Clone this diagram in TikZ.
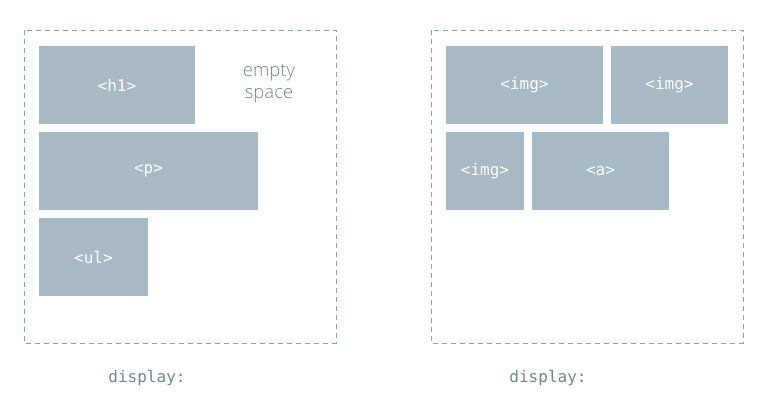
\documentclass[tikz,border=0pt]{standalone}
\usepackage{fontspec}
\setmainfont{Open Sans}
\newfontfamily\lightfont{Open Sans Light}
\setmonofont{DejaVu Sans Mono}
\definecolor{boxfill}{HTML}{A7B9C4}
\definecolor{framec}{HTML}{8AA3B3}
\definecolor{labelc}{HTML}{6C8797}
\begin{document}
\begin{tikzpicture}[x=1pt,y=-1pt,
  elem/.style={fill=boxfill,draw=none,inner sep=0pt,text=white,font=\ttfamily\fontsize{16}{19}\selectfont},
  frame/.style={draw=framec,line width=0.9pt,dash pattern=on 5pt off 4pt},
  caption/.style={text=labelc,font=\ttfamily\fontsize{16}{19}\selectfont},
  note/.style={text=labelc,font=\lightfont\fontsize{18.5}{22}\selectfont,align=center}]
\useasboundingbox (0,0) rectangle (770,404);
% left frame
\draw[frame] (24,30) rectangle (336,343);
\node[elem,minimum width=156pt,minimum height=78pt] (h1) at (117,85) {<h1>};
\node[elem,minimum width=219pt,minimum height=78pt] (p) at (148.5,171) {<p>};
\node[elem,minimum width=109pt,minimum height=78pt] (ul) at (93.5,257) {<ul>};
\node[note] (empty) at (269,84) {empty\\space};
\node[caption] (cap1) at (147,378) {display:};
% right frame
\draw[frame] (431,30) rectangle (743,343);
\node[elem,minimum width=157pt,minimum height=78pt] (img1) at (524.5,85) {<img>};
\node[elem,minimum width=117pt,minimum height=78pt] (img2) at (669.5,85) {<img>};
\node[elem,minimum width=78pt,minimum height=78pt] (img3) at (485,171) {<img>};
\node[elem,minimum width=137pt,minimum height=78pt] (a) at (600.5,171) {<a>};
\node[caption] (cap2) at (548,378) {display:};
\end{tikzpicture}
\end{document}
